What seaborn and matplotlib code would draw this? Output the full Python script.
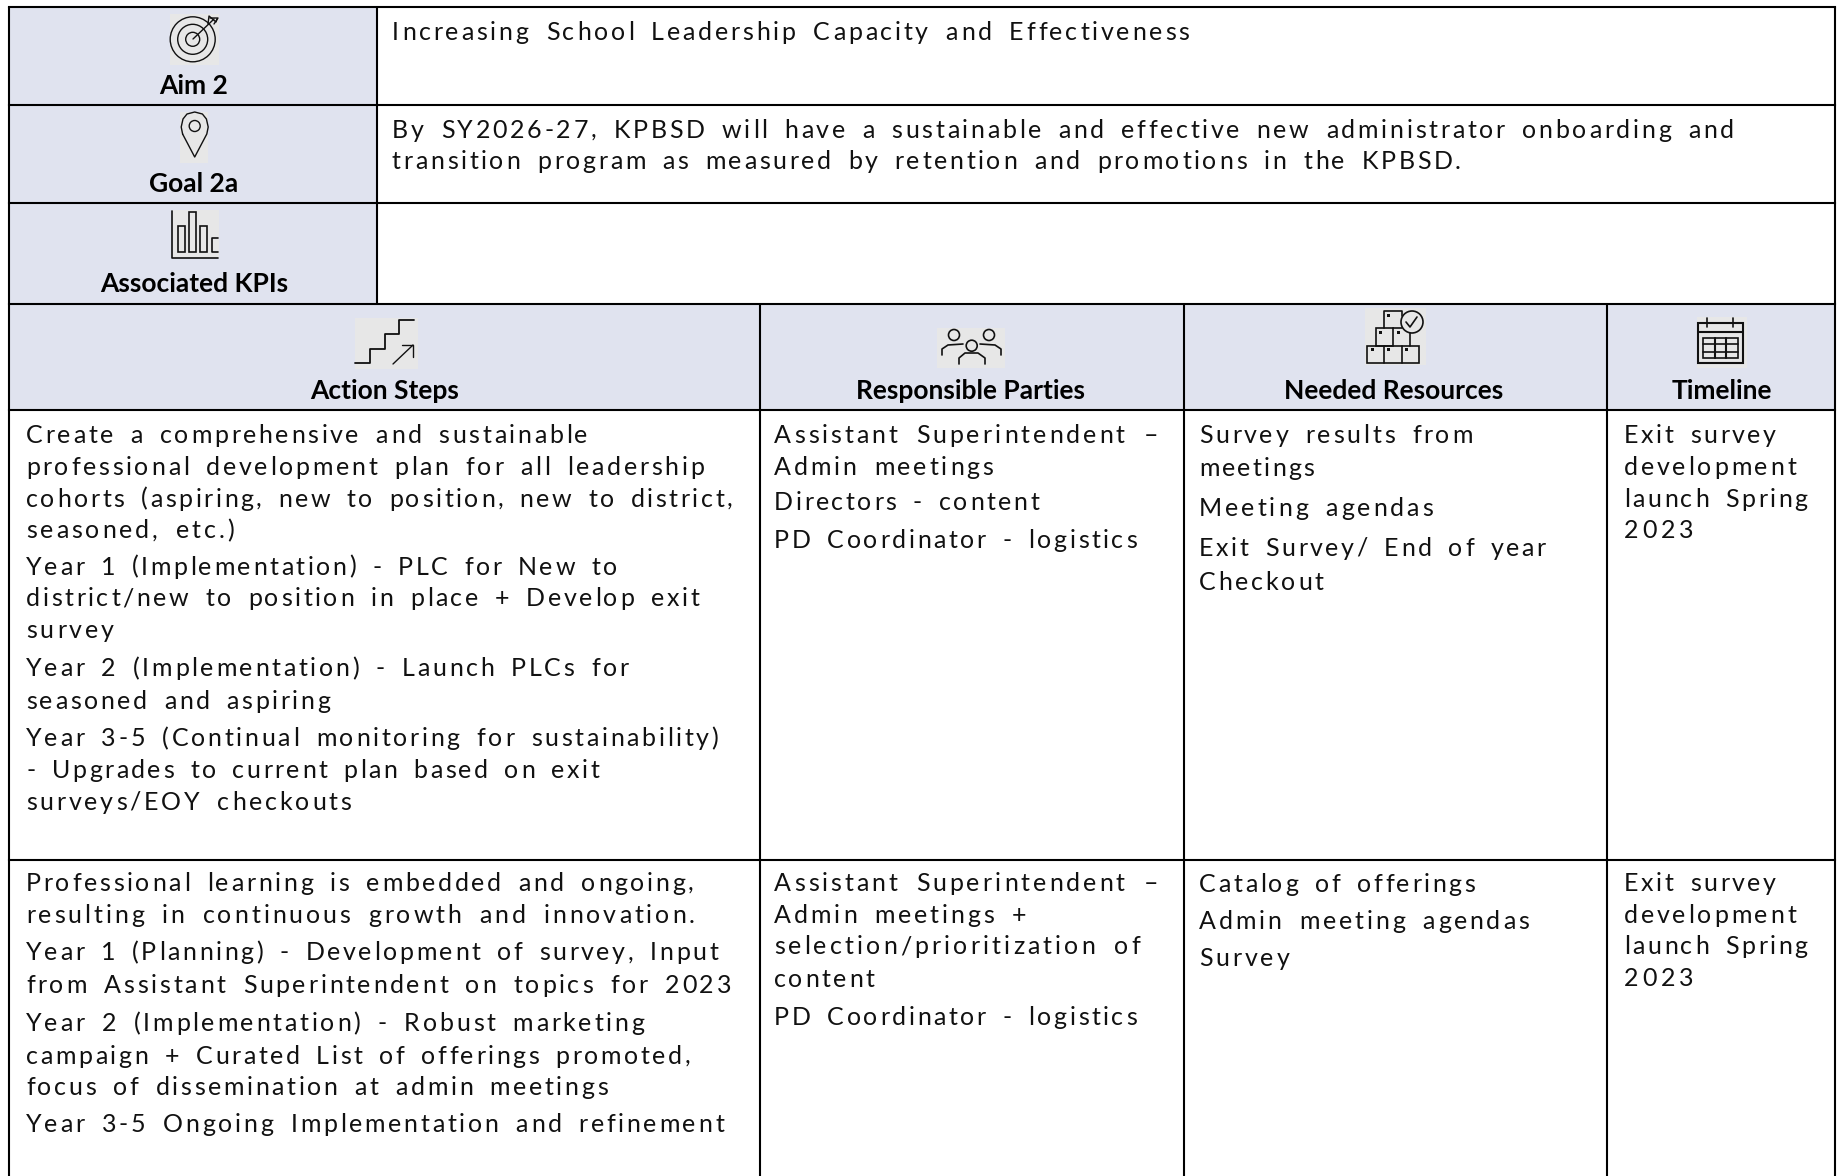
import matplotlib
matplotlib.use('Agg')
import matplotlib.pyplot as plt
from matplotlib import font_manager
from matplotlib.ft2font import LoadFlags
from matplotlib.patches import Rectangle, Circle
from matplotlib.text import Text
from matplotlib.transforms import Bbox
import seaborn as sns

S = 1843 / 1568

aim_text = ['Increasing School Leadership Capacity and Effectiveness']
goal_text = ['By SY2026-27, KPBSD will have a sustainable and effective new administrator onboarding and',
             'transition program as measured by retention and promotions in the KPBSD.']
side_heads = ['Aim 2', 'Goal 2a', 'Associated KPIs']
col_heads = ['Action Steps', 'Responsible Parties', 'Needed Resources', 'Timeline']

steps_1 = ['Create a comprehensive and sustainable',
           'professional development plan for all leadership',
           'cohorts (aspiring, new to position, new to district,',
           'seasoned, etc.)',
           'Year 1 (Implementation) - PLC for New to',
           'district/new to position in place + Develop exit',
           'survey',
           'Year 2 (Implementation) - Launch PLCs for',
           'seasoned and aspiring',
           'Year 3-5 (Continual monitoring for sustainability)',
           '- Upgrades to current plan based on exit',
           'surveys/EOY checkouts']
steps_2 = ['Professional learning is embedded and ongoing,',
           'resulting in continuous growth and innovation.',
           'Year 1 (Planning) - Development of survey, Input',
           'from Assistant Superintendent on topics for 2023',
           'Year 2 (Implementation) - Robust marketing',
           'campaign + Curated List of offerings promoted,',
           'focus of dissemination at admin meetings',
           'Year 3-5 Ongoing Implementation and refinement']
parties_1 = ['Assistant Superintendent –', 'Admin meetings', 'Directors - content', 'PD Coordinator - logistics']
parties_2 = ['Assistant Superintendent –', 'Admin meetings +', 'selection/prioritization of', 'content',
             'PD Coordinator - logistics']
needs_1 = ['Survey results from', 'meetings', 'Meeting agendas', 'Exit Survey/ End of year', 'Checkout']
needs_2 = ['Catalog of offerings', 'Admin meeting agendas', 'Survey']
time_1 = ['Exit survey', 'development', 'launch Spring', '2023']

# baselines
y_aim = [34]
y_goal = [117, 144]
y_steps_1 = [377, 404, 431, 458, 489, 516, 543, 575, 603, 635, 662, 689]
y_steps_2 = [758, 785, 817, 845, 877, 905, 932, 963]
y_parties_1 = [377, 404, 434, 466]
y_parties_2 = [758, 785, 812, 840, 872]
y_needs_1 = [377, 405, 439, 473, 502]
y_needs_2 = [759, 790, 822]
y_time_1 = [377, 404, 431, 458]
y_time_2 = [758, 785, 812, 839]

# where each line ends
end_aim = [1012]
end_goal = [1475, 1243]
end_steps_1 = [500, 599, 623, 199, 525, 595, 97, 535, 281, 611, 510, 299]
end_steps_2 = [590, 591, 611, 622, 548, 587, 517, 616]
end_parties_1 = [985, 845, 884, 967]
end_parties_2 = [985, 873, 970, 744, 967]
end_needs_1 = [1253, 1118, 1219, 1315, 1126]
end_needs_2 = [1255, 1301, 1097]
end_time = [1511, 1528, 1538, 1441]

sns.set_theme(style='white')
plt.rcParams['font.family'] = ['Lato', 'DejaVu Sans']
fill = '#E0E3EF'
icon_bg = '#E7E7E7'
ink = '#111111'

fig = plt.figure(figsize=(18.43, 11.76), dpi=100)
ax = fig.add_axes([0, 0, 1, 1])
ax.set_xlim(0, 1843)
ax.set_ylim(1176, 0)
ax.axis('off')


class TrackedText(Text):
    # one text per line, letter spaced out so the line ends at x_end
    def __init__(self, x, y, s, x_end, **kw):
        super().__init__(x, y, s, **kw)
        self.x_end = x_end

    def draw(self, renderer):
        fp = self.get_fontproperties()
        font = font_manager.get_font(font_manager.findfont(fp))
        font.set_size(fp.get_size_in_points(), renderer.dpi)
        s = self.get_text()
        adv = [font.load_char(ord(c), flags=LoadFlags.NO_HINTING).linearHoriAdvance / 65536 for c in s]
        x0, y0 = self.get_transform().transform(self.get_position())
        x1, _ = self.get_transform().transform((self.x_end, 0))
        # a gap next to a space counts three times
        gaps = [3 if c == ' ' else 1 for c in s[:-1]]
        track = (x1 - x0 - sum(adv)) / max(sum(gaps), 1)
        gc = renderer.new_gc()
        gc.set_foreground(self.get_color())
        h = renderer.get_canvas_width_height()[1]
        x = x0
        for i, c in enumerate(s):
            if c != ' ':
                renderer.draw_text(gc, x, h - y0, c, fp, 0, ismath=False)
            if i < len(gaps):
                x += adv[i] + track * gaps[i]
        gc.restore()

    def get_window_extent(self, renderer=None, dpi=None):
        bb = super().get_window_extent(renderer, dpi)
        x1, _ = self.get_transform().transform((self.x_end, 0))
        return Bbox([[bb.x0, bb.y0], [x1, bb.y1]])


# shaded cells
ax.add_patch(Rectangle((9, 7), 368, 297, fc=fill, ec='none'))
ax.add_patch(Rectangle((9, 304), 1826, 106, fc=fill, ec='none'))

# rules
for y in [7, 105, 203, 304, 410, 860]:
    ax.plot([9, 1835], [y, y], color='black', lw=1.5, solid_capstyle='projecting')
ax.plot([9, 9], [7, 1176], color='black', lw=1.5)
ax.plot([1835, 1835], [7, 1176], color='black', lw=1.5)
ax.plot([377, 377], [7, 304], color='black', lw=1.5)
for x in [760, 1184, 1607]:
    ax.plot([x, x], [304, 1176], color='black', lw=1.5)


def lines(strings, x, ys, ends):
    for s, y, e in zip(strings, ys, ends):
        ax.add_artist(TrackedText(x, y * S, s, e * S, fontsize=18, color=ink, ha='left', va='baseline'))


lines(aim_text, 392, y_aim, end_aim)
lines(goal_text, 392, y_goal, end_goal)
lines(steps_1, 26, y_steps_1, end_steps_1)
lines(steps_2, 26, y_steps_2, end_steps_2)
lines(parties_1, 774, y_parties_1, end_parties_1)
lines(parties_2, 774, y_parties_2, end_parties_2)
lines(needs_1, 1199, y_needs_1, end_needs_1)
lines(needs_2, 1199, y_needs_2, end_needs_2)
lines(time_1, 1624, y_time_1, end_time)
lines(time_1, 1624, y_time_2, end_time)

for s, y in zip(side_heads, [94, 192.5, 291.5]):
    ax.text(194, y, s, fontsize=19, family='Lato', weight='bold', color='black', ha='center', va='baseline')
for s, x in zip(col_heads, [385, 970, 1394, 1722]):
    ax.text(x, 399, s, fontsize=19, family='Lato', weight='bold', color='black', ha='center', va='baseline')


# icons
def bg(x0, y0, x1, y1):
    ax.add_patch(Rectangle((x0, y0), x1 - x0, y1 - y0, fc=icon_bg, ec='none', zorder=2))


def stroke(xs, ys, lw=1.2):
    ax.plot(xs, ys, color=ink, lw=lw, zorder=3, solid_joinstyle='round')


def ring(x, y, r, lw=1.2, fc='none', z=3):
    ax.add_patch(Circle((x, y), r, fc=fc, ec=ink, lw=lw, zorder=z))


def box(x0, y0, x1, y1, lw=1.2):
    ax.add_patch(Rectangle((x0, y0), x1 - x0, y1 - y0, fc='none', ec=ink, lw=lw, zorder=3))


# target
bg(170, 14, 219, 65)
for r in [22.5, 15, 7]:
    ring(192.7, 39.3, r, lw=1.0)
stroke([193, 214], [39, 19], lw=1.0)
stroke([208, 209, 216, 217], [24, 16, 22, 19], lw=1.0)
stroke([214, 218, 210], [24, 18, 18], lw=1.0)

# pin
bg(180, 112, 208, 163)
pin_x = [182.6, 181.2, 183, 187, 194.7, 202.4, 206.4, 208.2, 206.8, 194.7, 182.6]
pin_y = [134, 127, 119, 114, 112, 114, 119, 127, 134, 157, 134]
stroke(pin_x, pin_y, lw=1.0)
ring(194.7, 126, 5.5, lw=1.0)

# bars
bg(172, 210, 219, 258)
stroke([172, 172, 218], [211, 258, 258])
for x0, x1, top in [(178, 185, 226), (189, 196, 212), (200, 207, 226)]:
    box(x0, top, x1, 252)
stroke([218, 212, 212, 218], [252, 252, 238, 238])

# stairs
bg(355, 318, 418, 369)
stroke([355, 370, 370, 385, 385, 399, 399, 414], [363, 363, 349, 349, 334, 334, 320, 320], lw=1.3)
stroke([393, 413], [364, 345], lw=1.0)
stroke([402, 413, 413], [345, 345, 357], lw=1.0)

# people
bg(937, 328, 1005, 368)
for x, y in [(954, 335), (989, 335), (971.7, 345.7)]:
    ring(x, y, 5.5)
stroke([942, 942, 948, 963], [355, 349, 345, 344])
stroke([1001, 1001, 995, 980], [355, 349, 345, 344])
stroke([959, 959, 965, 978, 985, 985], [364, 358, 353, 353, 358, 364])

# boxes
bg(1365, 308, 1426, 365)
box(1367, 346, 1419, 363)
stroke([1384, 1384], [346, 363])
stroke([1402, 1402], [346, 363])
box(1376, 328, 1393, 346)
stroke([1393, 1402], [328, 328])
stroke([1410, 1410], [333, 346])
stroke([1384, 1384, 1402, 1402], [328, 311, 311, 316])
for x, y in [(1371, 348), (1387, 348), (1405, 348), (1379, 331), (1397, 331), (1387, 314)]:
    ax.add_patch(Rectangle((x, y), 3, 3, fc=ink, ec='none', zorder=3))
ring(1412, 322, 11, fc=icon_bg, z=4)
ax.plot([1406, 1410, 1417], [322, 327, 317], color=ink, lw=1.2, zorder=5)

# calendar
bg(1697, 317, 1747, 368)
box(1698, 323, 1743, 363, lw=1.5)
stroke([1698, 1743], [332, 332], lw=1.5)
stroke([1707, 1707], [318, 327])
stroke([1733, 1733], [318, 327])
box(1703, 338, 1738, 358)
stroke([1703, 1738], [344, 344])
stroke([1703, 1738], [352, 352])
stroke([1715, 1715], [338, 358], lw=1.5)
stroke([1726, 1726], [338, 358], lw=1.5)

fig.savefig('out.png', dpi=100)
